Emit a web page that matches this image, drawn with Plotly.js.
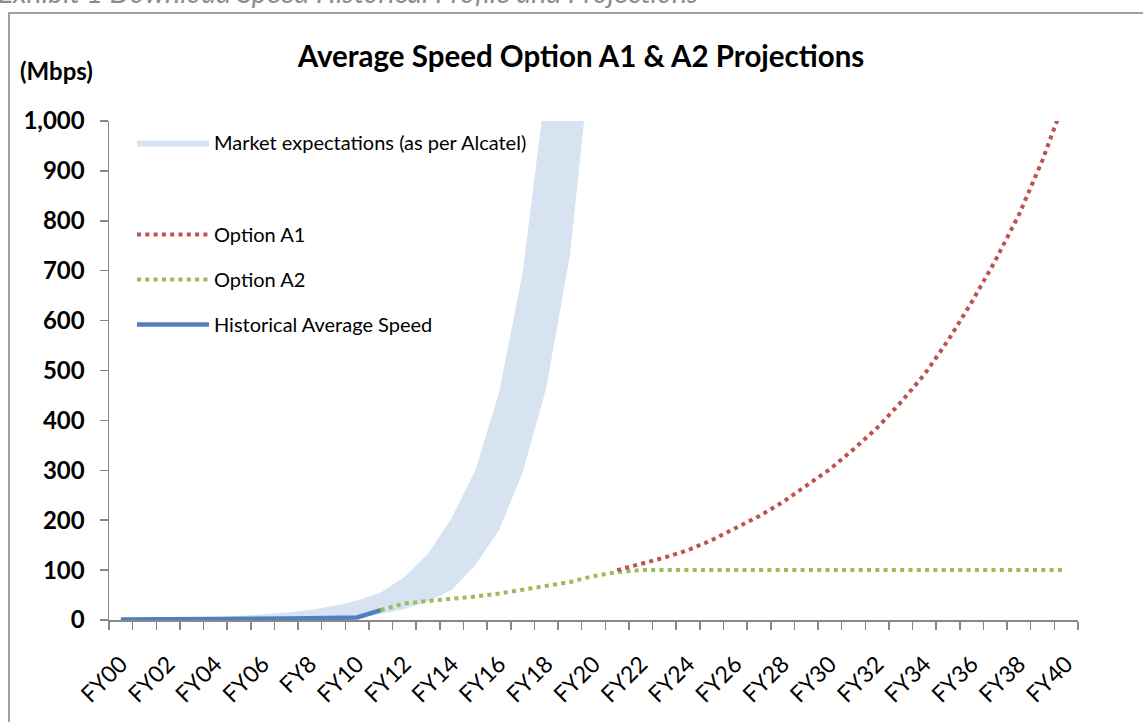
<!DOCTYPE html>
<html>
<head>
<meta charset="utf-8">
<script src="https://cdn.plot.ly/plotly-3.0.1.min.js"></script>
<style>html,body{margin:0;padding:0;background:#fff;}#chart{width:1143px;height:722px;}</style>
</head>
<body>
<div id="chart"></div>
<script>
// Categories (fiscal years) as labelled in the source
const categories = ["FY00","FY01","FY02","FY03","FY04","FY05","FY06","FY07","FY8","FY09",
  "FY10","FY11","FY12","FY13","FY14","FY15","FY16","FY17","FY18","FY19",
  "FY20","FY21","FY22","FY23","FY24","FY25","FY26","FY27","FY28","FY29",
  "FY30","FY31","FY32","FY33","FY34","FY35","FY36","FY37","FY38","FY39","FY40"];
// Tick labels: every second year is labelled
const tickLabels = ["FY00","","FY02","","FY04","","FY06","","FY8","",
  "FY10","","FY12","","FY14","","FY16","","FY18","",
  "FY20","","FY22","","FY24","","FY26","","FY28","",
  "FY30","","FY32","","FY34","","FY36","","FY38","","FY40"];

// Market expectations band (FY00-FY20), lower and upper bound, Mbps
const bandYears = categories.slice(0, 21);
const bandLower = [0.5,0.5,1,1,1,1.5,1.5,2,2,3,4,12,22,37,60,110,180,295,465,730,1180];
const bandUpper = [1,2,3,4,6,8,11,15,20,28,39,55,86,133,205,300,455,695,1075,1650,2500];

// Historical average speed (FY00-FY11)
const histYears = categories.slice(0, 12);
const historical = [1,1,1.5,1.5,2,2,2.5,3,3.5,4,5,20];

// Option A2 (FY11-FY40)
const a2Years = categories.slice(11);
const optionA2 = [20,33,38,42,47,53,60,67,76,88,96,100,100,100,100,100,100,100,100,100,
  100,100,100,100,100,100,100,100,100,100];

// Option A1 (FY21-FY40)
const a1Years = categories.slice(21);
const optionA1 = [100,112,125,140,160,184,208,236,268,302,342,385,436,492,560,637,720,812,922,1050];

const FONT = "Lato, 'Open Sans', sans-serif";

const traces = [
  {x: bandYears, y: bandLower, type: 'scatter', mode: 'lines', line: {width: 0, color: 'rgba(0,0,0,0)'},
   showlegend: false, hoverinfo: 'skip'},
  {x: bandYears, y: bandUpper, type: 'scatter', mode: 'lines', fill: 'tonexty', fillcolor: '#D7E3F1',
   line: {width: 0, color: '#D7E3F1'}, name: 'Market expectations (as per Alcatel)', legend: 'legend'},
  {x: a2Years, y: optionA2, type: 'scatter', mode: 'lines', name: 'Option A2',
   line: {color: '#9BBB59', width: 4, dash: '4px,4.3px'}, legend: 'legend2', legendgroup: 'g2', legendrank: 2},
  {x: a1Years, y: optionA1, type: 'scatter', mode: 'lines', name: 'Option A1',
   line: {color: '#C0504D', width: 4, dash: '4px,4.3px'}, legend: 'legend2', legendgroup: 'g1', legendrank: 1},
  {x: histYears, y: historical, type: 'scatter', mode: 'lines', name: 'Historical Average Speed',
   line: {color: '#4F81BD', width: 4.5}, legend: 'legend2', legendgroup: 'g3', legendrank: 3}
];

const L = 109, R = 65, T = 121, B = 102;
const PW = 1143 - L - R, PH = 722 - T - B;
const px = v => (v - L) / PW;
const py = v => (722 - B - v) / PH;

const layout = {
  width: 1143, height: 722,
  margin: {l: L, r: R, t: T, b: B, pad: 0},
  paper_bgcolor: '#fff', plot_bgcolor: '#fff',
  font: {family: FONT, color: '#000'},
  title: {text: 'Average Speed Option A1 & A2 Projections', x: 581/1143, xanchor: 'center',
    xref: 'container', yref: 'container', y: 1 - 57/722, yanchor: 'middle',
    font: {family: FONT, size: 29.5, weight: 'bold', color: '#000'}},
  xaxis: {type: 'category', categoryorder: 'array', categoryarray: categories,
    range: [-0.5, 40.5], tickmode: 'array', tickvals: categories, ticktext: tickLabels,
    tickson: 'boundaries', ticks: 'outside', ticklen: 8, tickwidth: 1.5, tickcolor: '#888',
    ticklabelstandoff: 20,
    showline: true, linecolor: '#888', linewidth: 1.5, showgrid: false, zeroline: false,
    tickangle: -45, tickfont: {family: FONT, size: 23, color: '#000'}, fixedrange: true},
  yaxis: {range: [0, 1000], tickmode: 'linear', tick0: 0, dtick: 100, tickformat: ',d',
    ticks: 'outside', ticklen: 8, tickwidth: 1.5, tickcolor: '#888', ticklabelstandoff: 10,
    showline: true, linecolor: '#888', linewidth: 1.5, showgrid: false, zeroline: false,
    tickfont: {family: FONT, size: 24, weight: 'bold', color: '#000'}, fixedrange: true},
  legend: {x: px(132), xanchor: 'left', y: py(123), yanchor: 'top', bgcolor: 'rgba(0,0,0,0)',
    itemwidth: 72, font: {family: FONT, size: 20, color: '#000'}},
  legend2: {x: px(132), xanchor: 'left', y: py(215), yanchor: 'top', bgcolor: 'rgba(0,0,0,0)',
    itemwidth: 72, traceorder: 'grouped', tracegroupgap: 16,
    font: {family: FONT, size: 20, color: '#000'}},
  shapes: [
    {type: 'rect', xref: 'paper', yref: 'paper', x0: px(9), x1: px(1160), y0: py(740), y1: py(13),
     line: {color: '#A0A0A0', width: 2}, fillcolor: 'rgba(0,0,0,0)', layer: 'below'}
  ],
  annotations: [
    {text: '(Mbps)', xref: 'paper', yref: 'paper', x: px(18), xanchor: 'left', y: py(70), yanchor: 'middle',
     showarrow: false, font: {family: FONT, size: 24, weight: 'bold', color: '#000'}},
    {text: 'Exhibit 1 Download Speed Historical Profile and Projections', xref: 'paper', yref: 'paper',
     x: px(-4), xanchor: 'left', y: py(11), yanchor: 'bottom', showarrow: false,
     font: {family: FONT, size: 28.5, style: 'italic', color: '#8C8C8C'}}
  ]
};

Plotly.newPlot('chart', traces, layout, {displayModeBar: false, staticPlot: true});
</script>
</body>
</html>
